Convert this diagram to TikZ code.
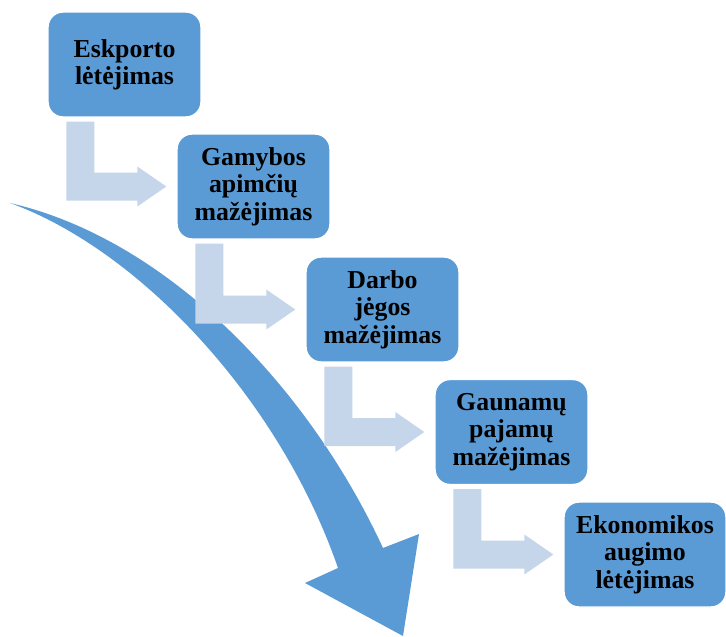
\documentclass[tikz,border=0pt]{standalone}
\usepackage{fontspec}
\setmainfont{Liberation Serif}
\usetikzlibrary{calc}
\definecolor{boxblue}{RGB}{91,155,213}
\definecolor{arrlight}{RGB}{197,213,234}

\begin{document}
\begin{tikzpicture}[x=0.02cm, y=-0.02cm,
    blok/.style={draw=white, line width=0.8pt, fill=boxblue, rounded corners=0.3cm,
        minimum width=3.06cm, minimum height=2.1cm, align=center, inner sep=2pt,
        font=\bfseries\fontsize{14.7}{15.6}\selectfont},
    rodykle/.style={fill=arrlight},
    didele/.style={fill=boxblue}]
\useasboundingbox (0,0) rectangle (726,636);

% 大弧形箭头
\fill[didele] (10,203) .. controls (170,240) and (310,390) .. (383,548)
    -- (419,534) -- (403,636) -- (305,583) -- (338,568)
    .. controls (280,400) and (140,250) .. (10,203) -- cycle;

% 方框
\node[blok] (b1) at (124.5,64.5) {Eskporto\\lėtėjimas};
\node[blok] (b2) at (253.5,186.5) {Gamybos\\apimčių\\mažėjimas};
\node[blok] (b3) at (382.5,309.5) {Darbo\\jėgos\\mažėjimas};
\node[blok] (b4) at (511.5,432) {Gaunamų\\pajamų\\mažėjimas};
\node[blok, minimum width=3.24cm] (b5) at (645,554.5) {Ekonomikos\\augimo\\lėtėjimas};

% 折线箭头 (y 轴向下)
\foreach \a/\b in {b1/b2,b2/b3,b3/b4,b4/b5} {
    \coordinate (t) at ($(\a.south west)+(19,4)$);
    \coordinate (h) at ($(\b.west)+(-10,0)$);
    \coordinate (c) at (t |- h);
    \fill[rodykle] (t) -- ($(t)+(28,0)$) -- ($(c)+(28,-14)$) -- ($(h)+(-29,-14)$)
        -- ($(h)+(-29,-20)$) -- (h) -- ($(h)+(-29,20)$) -- ($(h)+(-29,14)$)
        -- ($(c)+(0,14)$) -- cycle;
}
\end{tikzpicture}
\end{document}
